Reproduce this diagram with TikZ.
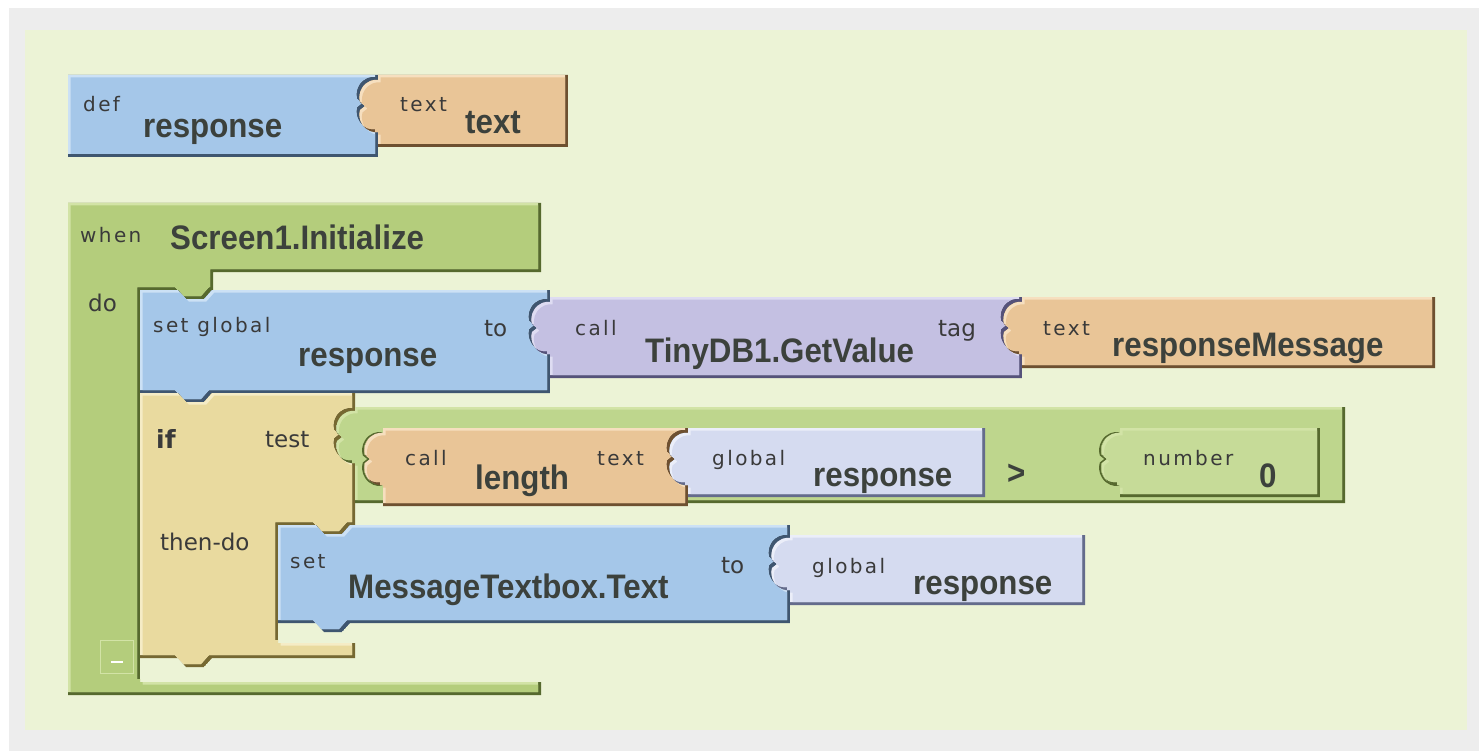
\documentclass[tikz,border=0pt]{standalone}
\usepackage{fontspec}
\newfontfamily\lblfont[LetterSpace=12]{DejaVu Sans}
\newfontfamily\kwfont{DejaVu Sans}
\newfontfamily\bigfont[FakeStretch=0.92]{Liberation Sans}

% palette
\definecolor{framegrey}{HTML}{EDEDED}
\definecolor{work}{HTML}{ECF3D6}
\definecolor{bluebase}{HTML}{A5C7E9}
\definecolor{bluelight}{HTML}{CCE1F5}
\definecolor{bluedark}{HTML}{3F5670}
\definecolor{orbase}{HTML}{E9C597}
\definecolor{orlight}{HTML}{F6DFBF}
\definecolor{ordark}{HTML}{6E5030}
\definecolor{purbase}{HTML}{C4C0E2}
\definecolor{purlight}{HTML}{DEDCF2}
\definecolor{purdark}{HTML}{55527A}
\definecolor{lavbase}{HTML}{D5DBF0}
\definecolor{lavlight}{HTML}{EBEEF9}
\definecolor{lavdark}{HTML}{646B8C}
\definecolor{grbase}{HTML}{B4CD7C}
\definecolor{grlight}{HTML}{D2E3A6}
\definecolor{grdark}{HTML}{56692E}
\definecolor{cmpbase}{HTML}{BED68D}
\definecolor{numbase}{HTML}{C6DB98}
\definecolor{tanbase}{HTML}{E9DA9F}
\definecolor{tanlight}{HTML}{F5ECC6}
\definecolor{tandark}{HTML}{766832}
\definecolor{inktext}{HTML}{3C413C}
\definecolor{inklbl}{HTML}{3A3A3A}

\tikzset{
  % socket cut into a right edge, walked downwards
  sockdown/.style 2 args={insert path={-- (#1,#2)
     .. controls ({#1-4},{#2-1}) and ({#1-12},{#2+1}) .. ({#1-16},{#2+8})
     .. controls ({#1-19},{#2+13}) and ({#1-19},{#2+18}) .. ({#1-18},{#2+22})
     -- ({#1-13},{#2+26}) -- ({#1-18},{#2+30})
     .. controls ({#1-19},{#2+34}) and ({#1-19},{#2+39}) .. ({#1-16},{#2+44})
     .. controls ({#1-12},{#2+51}) and ({#1-4},{#2+53}) .. (#1,{#2+52})}},
  % matching plug on a left edge, walked upwards
  tabup/.style 2 args={insert path={-- (#1,{#2+52})
     .. controls ({#1-4},{#2+53}) and ({#1-12},{#2+51}) .. ({#1-16},{#2+44})
     .. controls ({#1-19},{#2+39}) and ({#1-19},{#2+34}) .. ({#1-18},{#2+30})
     -- ({#1-13},{#2+26}) -- ({#1-18},{#2+22})
     .. controls ({#1-19},{#2+18}) and ({#1-19},{#2+13}) .. ({#1-16},{#2+8})
     .. controls ({#1-12},{#2+1}) and ({#1-4},{#2-1}) .. (#1,#2)}},
  % statement notch on a top edge (walked right) and nub on a bottom edge (walked left)
  notch/.style 2 args={insert path={-- ({#1+38},#2) -- ({#1+46},{#2+9}) -- ({#1+64},{#2+9}) -- ({#1+72},#2)}},
  nub/.style 2 args={insert path={-- ({#1+72},#2) -- ({#1+64},{#2+9}) -- ({#1+46},{#2+9}) -- ({#1+38},#2)}},
  lbl/.style={inner sep=0pt, anchor=base west, text=inklbl, font=\lblfont\fontsize{20}{20}\selectfont},
  kw/.style={inner sep=0pt, anchor=base west, text=inklbl, font=\kwfont\fontsize{23}{23}\selectfont},
  big/.style={inner sep=0pt, anchor=base west, text=inktext, font=\bigfont\bfseries\fontsize{34}{34}\selectfont},
  plugline/.style={draw=#1, line width=1.6pt, line join=round},
}

% bevelled block: #1 outline, #2 face, #3 highlight, #4 shadow
\newcommand\bevelblock[4]{%
  \begin{scope}
    \clip #1;
    \fill[#4] #1;
    \begin{scope}[shift={(-3,-3)}]
      \fill[#3] #1;
      \clip #1;
      \fill[#2, shift={(5.5,5.5)}] #1;
    \end{scope}
  \end{scope}}

\begin{document}
\begin{tikzpicture}[x=1pt,y=-1pt]
\useasboundingbox (0,0) rectangle (1479,751);
\fill[white] (0,0) rectangle (1479,751);
\fill[framegrey] (9,8) rectangle (1479,751);
\fill[work] (25,30) rectangle (1467,730);

% block outlines
\def\shpDef{(68,75) -- (378,75) [sockdown={378}{80}] -- (378,157) -- (68,157) -- cycle}
\def\shpDefTxt{(378,75) -- (568,75) -- (568,147) -- (378,147) [tabup={378}{80}] -- cycle}
\def\shpWhen{(68,203) -- (541,203) -- (541,272) -- (213,272) -- (213,290) [nub={140}{290}] -- (140,290) -- (140,682) -- (541,682) -- (541,695) -- (68,695) -- cycle}
\def\shpSet{(140,290) [notch={140}{290}] -- (550,290) [sockdown={550}{302}] -- (550,393) [nub={140}{393}] -- (140,393) -- cycle}
\def\shpCall{(550,297) -- (1022,297) [sockdown={1022}{302}] -- (1022,378) -- (550,378) [tabup={550}{302}] -- cycle}
\def\shpTag{(1022,297) -- (1435,297) -- (1435,368) -- (1022,368) [tabup={1022}{302}] -- cycle}
\def\shpIf{(140,393) [notch={140}{393}] -- (355,393) [sockdown={355}{411}] -- (355,525) [nub={278}{525}] -- (278,525) -- (278,643) -- (355,643) -- (355,658) [nub={140}{658}] -- (140,658) -- cycle}
\def\shpCmp{(355,407) -- (1345,407) -- (1345,503) -- (355,503) [tabup={355}{411}] -- cycle}
\def\shpLen{(383,428) -- (688,428) [sockdown={688}{433}] -- (688,506) -- (383,506) [tabup={383}{433}] -- cycle}
\def\shpGlobA{(688,428) -- (985,428) -- (985,497) -- (688,497) [tabup={688}{433}] -- cycle}
\def\shpNum{(1120,428) -- (1320,428) -- (1320,497) -- (1120,497) [tabup={1120}{433}] -- cycle}
\def\shpMsg{(278,525) [notch={278}{525}] -- (790,525) [sockdown={790}{538}] -- (790,623) [nub={278}{623}] -- (278,623) -- cycle}
\def\shpGlobB{(790,535) -- (1085,535) -- (1085,605) -- (790,605) [tabup={790}{538}] -- cycle}

% global definition
\bevelblock{\shpDef}{bluebase}{bluelight}{bluedark}
\bevelblock{\shpDefTxt}{orbase}{orlight}{ordark}

% event handler
\bevelblock{\shpWhen}{grbase}{grlight}{grdark}
\bevelblock{\shpSet}{bluebase}{bluelight}{bluedark}
\bevelblock{\shpCall}{purbase}{purlight}{purdark}
\bevelblock{\shpTag}{orbase}{orlight}{ordark}
\bevelblock{\shpIf}{tanbase}{tanlight}{tandark}
\bevelblock{\shpCmp}{cmpbase}{grlight}{grdark}
\draw[plugline=grdark, shift={(-1.5,0)}] (383,433) [sockdown={383}{433}];
\draw[plugline=grdark, shift={(-1.5,0)}] (1120,433) [sockdown={1120}{433}];
\bevelblock{\shpLen}{orbase}{orlight}{ordark}
\bevelblock{\shpGlobA}{lavbase}{lavlight}{lavdark}
\bevelblock{\shpNum}{numbase}{grlight}{grdark}
\bevelblock{\shpMsg}{bluebase}{bluelight}{bluedark}
\bevelblock{\shpGlobB}{lavbase}{lavlight}{lavdark}

% collapse toggle
\node[draw=grlight, fill=grbase, line width=1.5pt, minimum size=33pt, inner sep=0pt] (collapse) at (117,657) {};
\draw[white, line width=2pt] ([shift={(-6,5)}]collapse.center) -- ([shift={(6,5)}]collapse.center);

% labels
\node[lbl] (defkw) at (83,112) {def};
\node[big] (defname) at (143,138) {response};
\node[lbl] (deftxtkw) at (400,112) {text};
\node[big] (deftxt) at (465,134) {text};

\node[lbl] (whenkw) at (80,243) {when};
\node[big] (event) at (170,250) {Screen1.Initialize};
\node[kw] (dokw) at (88,311) {do};

\node[lbl] (setkw) at (153,332) {set global};
\node[big] (setname) at (298,366) {response};
\node[kw] (tokw) at (484,336) {to};
\node[lbl] (callkw) at (575,335) {call};
\node[big] (callname) at (645,362) {TinyDB1.GetValue};
\node[kw] (tagkw) at (938,336) {tag};
\node[lbl] (tagtxtkw) at (1043,335) {text};
\node[big] (tagtxt) at (1112,356) {responseMessage};

\node[kw, font=\kwfont\bfseries\fontsize{25}{25}\selectfont] (ifkw) at (156,448) {if};
\node[kw] (testkw) at (265,447) {test};
\node[lbl] (lencallkw) at (405,465) {call};
\node[big] (lenname) at (475,489) {length};
\node[lbl] (lentxtkw) at (597,465) {text};
\node[lbl] (globAkw) at (712,465) {global};
\node[big] (globAname) at (813,486) {response};
\node[big] (gtsign) at (1007,484) {>};
\node[lbl] (numkw) at (1143,465) {number};
\node[big] (numval) at (1259,487) {0};

\node[kw] (thenkw) at (160,550) {then-do};
\node[lbl] (msgsetkw) at (290,568) {set};
\node[big] (msgname) at (348,598) {MessageTextbox.Text};
\node[kw] (msgtokw) at (721,573) {to};
\node[lbl] (globBkw) at (812,573) {global};
\node[big] (globBname) at (913,594) {response};
\end{tikzpicture}
\end{document}
